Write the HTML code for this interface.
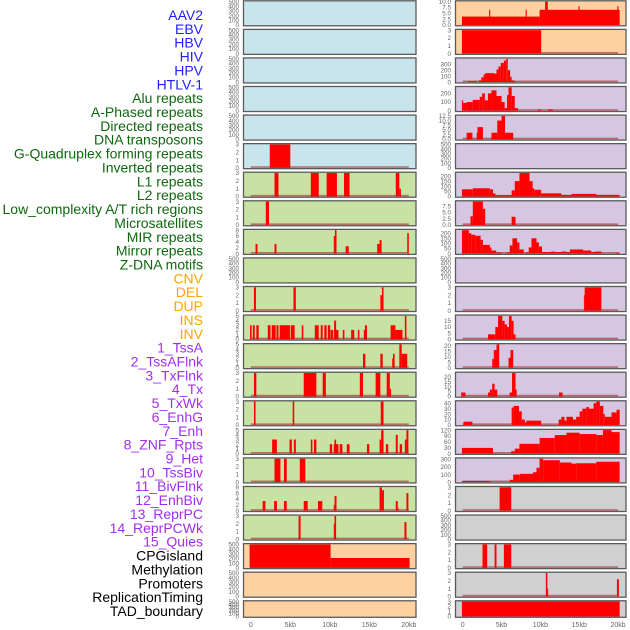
<!DOCTYPE html>
<html><head><meta charset="utf-8">
<style>
html,body{margin:0;padding:0;background:#fff;width:630px;height:630px;overflow:hidden}
svg{display:block}
text{font-family:"Liberation Sans",sans-serif}
</style></head>
<body>
<svg id="chart" width="630" height="630" viewBox="0 0 630 630"></svg>
<script>
const trackLabels = ["AAV2","EBV","HBV","HIV","HPV","HTLV-1","Alu repeats","A-Phased repeats","Directed repeats","DNA transposons","G-Quadruplex forming repeats","Inverted repeats","L1 repeats","L2 repeats","Low_complexity A/T rich regions","Microsatellites","MIR repeats","Mirror repeats","Z-DNA motifs","CNV","DEL","DUP","INS","INV","1_TssA","2_TssAFlnk","3_TxFlnk","4_Tx","5_TxWk","6_EnhG","7_Enh","8_ZNF_Rpts","9_Het","10_TssBiv","11_BivFlnk","12_EnhBiv","13_ReprPC","14_ReprPCWk","15_Quies","CPGisland","Methylation","Promoters","ReplicationTiming","TAD_boundary"];
const labelGroups = [6,13,5,15,5];
const xTickValues = [0,5,10,15,20];
const xTickLabels = ["0","5kb","10kb","15kb","20kb"];

const T500 = ["0","100","200","300","400","500"];
const T3 = ["0","1","2","3"];
const segL5 = [[2.4,5.0,3]];
const segL6 = [[3.0,3.5,3],[7.6,8.6,3],[9.6,10.9,3],[11.8,12.5,3],[18.35,18.8,3],[18.8,19.0,1]];
const segL7 = [[1.9,2.3,3]];
const segL8 = [[0.6,0.85,3.3],[3.0,3.25,3.3],[10.5,10.65,6],[10.65,10.85,8],[12.0,12.4,2.5],[16.0,16.3,3.3],[16.3,16.55,4.6],[19.8,20.0,7]];
const segL10 = [[0.4,0.65,3],[5.4,5.7,3],[16.4,16.6,2],[16.6,16.8,3]];
const segL11 = [[-0.1,0.1,3],[0.25,0.5,3],[0.7,1.0,3],[2.15,2.5,3],[2.65,3.15,3],[3.25,3.5,3],[3.65,4.95,3],[5.05,5.55,3],[6.45,6.65,3],[8.1,8.6,3],[8.85,9.1,3],[9.3,9.6,3],[9.75,10.05,3],[10.1,10.4,2],[10.5,11.1,2],[10.55,10.8,4],[11.65,11.85,2],[12.7,13.1,2],[13.55,13.75,2],[14.3,14.7,2],[14.45,14.7,3],[17.7,18.3,3],[18.3,19.2,2],[19.5,19.7,5]];
const segL12 = [[14.2,14.5,3],[16.4,16.7,3],[17.9,18.2,2],[18.0,18.2,3],[18.8,19.1,5],[19.1,19.8,3]];
const segL13 = [[0.4,0.7,3],[6.7,8.3,3],[9.1,9.5,3],[13.8,14.2,3],[15.8,16.4,3],[17.2,17.6,3],[17.6,17.75,1]];
const segL14 = [[0.4,0.6,3],[5.3,5.5,3],[16.45,16.8,3]];
const segL15 = [[2.7,3.3,3],[4.9,5.2,3],[5.45,5.7,3],[7.6,7.8,3],[8.0,8.3,3],[10.0,10.3,2],[10.5,11.1,2],[10.6,10.8,3],[11.25,11.6,2],[12.15,12.5,2],[14.7,15.0,2],[16.3,16.5,3],[16.5,16.8,5],[17.1,17.4,2],[18.35,18.6,4],[18.85,19.15,2],[19.5,19.7,3],[19.7,19.95,5]];
const segL16 = [[3.0,3.75,3],[4.2,4.55,3],[6.2,6.9,3]];
const segL17 = [[1.5,1.85,3.3],[2.95,3.3,3.3],[4.2,4.55,3.3],[6.7,7.2,3.3],[8.5,9.05,3.3],[10.5,10.6,2],[10.6,10.85,5],[16.3,16.6,8],[16.6,16.85,7],[18.35,18.6,3.3],[18.6,18.7,1],[19.7,19.95,6]];
const segL18 = [[6.05,6.3,3],[10.5,10.6,2],[10.6,10.8,3],[19.45,19.7,2.2]];
const segL19 = [[-0.15,10.1,500],[10.1,20.1,210]];
const leftYMax = [500,500,500,500,500,3,3,3,8,500,3,5,5,3,3,5,3,8,3,500,500,500];
const leftTicks = [T500,T500,T500,T500,T500,T3,T3,T3,["0","2","4","6","8"],T500,T3,["0","1","2","3","4","5"],["0","1","2","3","4","5"],T3,T3,["0","1","2","3","4","5"],T3,["0","2","4","6","8"],T3,T500,T500,T500];
const leftSeries = [[],[],[],[],[],segL5,segL6,segL7,segL8,[],segL10,segL11,segL12,segL13,segL14,segL15,segL16,segL17,segL18,segL19,[],[]];
const leftColors = ["blue","blue","blue","blue","blue","blue","green","green","green","green","green","green","green","green","green","green","green","green","green","orange","orange","orange"];

const segR0 = [[-0.1,9.9,3.6],[3.4,3.55,6.5],[8.1,8.25,6.5],[9.9,20.2,6.5],[10.6,10.95,10],[14.9,15.05,8],[19.9,20.05,8]];
const segR1 = [[-0.1,10.1,3]];
const segR2 = [[0.7,1.8,15],[2.1,2.4,30],[2.4,2.7,80],[2.7,2.9,130],[2.9,4.1,150],[4.1,4.35,140],[4.35,4.6,210],[4.6,4.9,260],[4.9,5.3,320],[5.3,5.6,360],[5.6,5.8,390],[5.8,6.1,200],[6.1,6.3,90],[6.3,6.6,30],[6.6,6.9,10]];
const segR3 = [[-0.1,0.05,120],[0.05,0.5,90],[0.5,1.3,100],[1.3,2.2,125],[2.2,2.5,160],[2.5,2.85,200],[2.85,3.25,120],[3.25,3.7,200],[3.7,4.35,235],[4.35,5.0,170],[5.0,5.4,100],[5.4,5.7,30],[5.7,5.9,180],[5.9,6.3,270],[6.3,6.7,170],[6.7,7.1,30],[9.7,10.1,15],[11.0,11.6,15]];
const segR4 = [[0.5,1.25,3.5],[1.8,1.9,3.5],[1.9,2.6,6.5],[3.7,4.45,3.5],[4.45,5.0,10],[5.0,5.45,12.5],[5.45,6.5,3.5]];
const segR6 = [[-0.1,1.3,70],[1.3,3.5,80],[3.5,3.9,70],[3.9,4.2,30],[4.2,6.3,12],[6.3,6.7,60],[6.7,7.3,150],[7.3,8.6,230],[8.6,9.0,150],[9.0,9.2,80],[9.2,10.1,65],[10.1,12.7,30],[12.7,14.0,15],[14.0,17.2,25],[17.2,20.2,15]];
const segR7 = [[1.0,1.3,3.5],[1.3,2.6,9.4],[2.6,2.9,6.5],[6.3,6.8,3.3]];
const segR8 = [[-0.1,0.8,230],[0.8,1.1,200],[1.1,1.6,185],[1.6,2.3,175],[2.3,2.6,135],[2.6,3.5,85],[3.5,3.7,60],[3.7,4.3,30],[4.3,5.0,10],[5.6,6.05,10],[6.05,6.4,80],[6.4,7.0,150],[7.0,7.3,110],[7.3,7.85,40],[8.1,8.5,10],[8.5,8.85,60],[8.85,9.5,150],[9.5,9.8,110],[9.8,10.2,70],[10.2,11.4,15],[11.4,11.85,20],[11.85,12.7,15],[12.7,13.35,20],[13.35,13.8,15],[13.8,15.5,40],[15.5,16.55,30],[16.55,17.0,15],[17.0,17.85,20],[19.8,20.2,10]];
const segR10 = [[15.6,15.7,2],[15.7,17.85,3]];
const segR11 = [[3.25,4.2,4],[4.2,4.55,10],[4.55,5.1,19],[5.1,5.4,15],[5.4,5.7,12],[5.7,5.95,10],[5.95,6.3,19],[6.3,6.55,15],[6.55,6.8,4]];
const segR12 = [[3.8,4.0,8],[4.0,4.35,16],[4.35,4.7,21],[5.9,6.15,9],[6.15,6.5,16]];
const segR13 = [[-0.2,0.35,4],[3.25,3.5,4],[3.5,3.8,7],[3.8,4.1,13],[4.1,4.45,7],[6.05,6.35,4],[6.35,6.8,24],[6.8,6.95,7],[12.4,12.85,4]];
const segR14 = [[0.1,1.25,6],[6.3,6.55,32],[6.55,7.25,35],[7.25,7.6,25],[7.6,8.0,10],[8.0,8.2,5],[8.2,10.1,8],[12.35,12.7,10],[12.7,13.1,15],[13.1,13.35,8],[13.35,14.2,15],[14.2,14.6,10],[14.6,15.05,15],[15.05,15.4,25],[15.4,15.9,30],[15.9,16.25,33],[16.25,16.85,30],[16.85,17.2,40],[17.2,17.65,43],[17.65,18.1,35],[18.1,18.3,20],[18.3,19.15,15],[19.15,19.8,23],[19.8,20.2,28]];
const segR15 = [[-0.1,3.9,29],[6.25,6.7,12],[6.7,7.3,25],[7.3,9.9,50],[9.9,11.85,80],[11.85,13.35,95],[13.35,15.05,107],[15.05,17.2,100],[17.2,18.05,95],[18.05,19.15,120],[19.15,20.2,110]];
const segR16 = [[-0.1,3.55,15],[6.05,6.5,30],[6.5,7.35,100],[7.35,9.05,110],[9.05,9.5,130],[9.5,9.9,190],[9.9,10.35,310],[10.35,12.5,290],[12.5,14.0,260],[14.0,14.6,245],[14.6,17.2,250],[17.2,20.2,270]];
const segR17 = [[4.75,6.25,3]];
const segR19 = [[2.55,3.15,3],[4.1,4.35,3],[5.3,6.25,3]];
const segR20 = [[10.7,10.9,3],[10.9,11.0,1],[19.85,20.1,2.2]];
const segR21 = [[-0.1,20.2,3]];
const rightYMax = [10,3,390,270,12.5,500,230,9.4,230,500,3,19,21,24,43,120,310,3,500,3,3,3];
const rightTicks = [["0.0","2.5","5.0","7.5","10.0"],T3,["0","100","200","300"],["0","100","200"],["0.0","2.5","5.0","7.5","10.0","12.5"],T500,["0","50","100","150","200"],["0.0","2.5","5.0","7.5"],["0","50","100","150","200"],T500,T3,["0","5","10","15"],["0","5","10","15","20"],["0","5","10","15","20"],["0","10","20","30","40"],["0","30","60","90","120"],["0","100","200","300"],T3,T500,T3,T3,T3];
const rightSeries = [segR0,segR1,segR2,segR3,segR4,[],segR6,segR7,segR8,[],segR10,segR11,segR12,segR13,segR14,segR15,segR16,segR17,[],segR19,segR20,segR21];
const rightColors = ["orange","orange","purple","purple","purple","purple","purple","purple","purple","purple","purple","purple","purple","purple","purple","purple","purple","gray","gray","gray","gray","gray"];

const NS = "http://www.w3.org/2000/svg";
const svg = document.getElementById("chart");
const bgFill = {blue:"#c8e4ec",green:"#c8e2a4",orange:"#ffd1a1",purple:"#d6c6e2",gray:"#d0d0d0"};
const labelColor = ["#1f1fff","#0e680e","#ffa500","#a22ef0","#000000"];
function mk(tag, attrs, parent){ const e=document.createElementNS(NS,tag); for(const k in attrs) e.setAttribute(k,attrs[k]); (parent||svg).appendChild(e); return e; }

let gi=0, cnt=0;
trackLabels.forEach((lab,i)=>{
  while(cnt>=labelGroups[gi]){cnt-=labelGroups[gi];gi++;}
  const t=mk("text",{x:203,y:15+i*13.86+5,"text-anchor":"end","font-size":"14",fill:labelColor[gi]});
  t.textContent=lab;
  
  
  cnt++;
});

const cols = [
  {x0:243.5,x1:416,zero:250.8,kpx:7.9,yMax:leftYMax,ticks:leftTicks,series:leftSeries,colors:leftColors,tx:239,name:"left"},
  {x0:455.5,x1:626,zero:462.7,kpx:7.77,yMax:rightYMax,ticks:rightTicks,series:rightSeries,colors:rightColors,tx:451,name:"right"}
];
cols.forEach((c,ci)=>{
  const xs = kb=>c.zero+kb*c.kpx;
  for(let i=0;i<22;i++){
    const top=0.8+i*28.57, h=(i===21)?16.5:25;
    const g=mk("g",{});
    
    
    const bg=mk("rect",{x:c.x0,y:top,width:c.x1-c.x0,height:h,fill:bgFill[c.colors[i]]},g);
    
    
    const y0=top+h-0.8, yT=top+0.8, ym=c.yMax[i];
    const ys=v=>y0-(v/ym)*(y0-yT);
    const segs=c.series[i];
    if(segs.length){
      const bl=mk("line",{x1:xs(0),x2:xs(20),y1:y0-0.8,y2:y0-0.8,stroke:"#b04040","stroke-width":1.6,opacity:0.7},g);
      
      
    }
    segs.forEach(s=>{
      const a=Math.max(xs(s[0]),c.x0), b=Math.min(xs(s[1]),c.x1);
      const yy=Math.max(ys(s[2]),yT);
      const r=mk("rect",{x:a,y:yy,width:Math.max(b-a,0.8),height:y0-yy,fill:"#ff0000"},g);
      
      
    });
    const br=mk("rect",{x:c.x0,y:top,width:c.x1-c.x0,height:h,fill:"none",stroke:"#5a5a5a","stroke-width":1.3},g);
    
    
    const tk=c.ticks[i];
    tk.forEach(lbl=>{
      const v=parseFloat(lbl);
      const t=mk("text",{x:c.tx,y:ys(v)+2.2,"text-anchor":"end","font-size":"6.3",fill:"#666"},g);
      t.textContent=lbl;
      
      
    });
  }
  xTickValues.forEach((v,k)=>{
    const t=mk("text",{x:xs(v),y:627,"text-anchor":"middle","font-size":"7",fill:"#666"});
    t.textContent=xTickLabels[k];
    
    
  });
});
</script>
</body></html>
